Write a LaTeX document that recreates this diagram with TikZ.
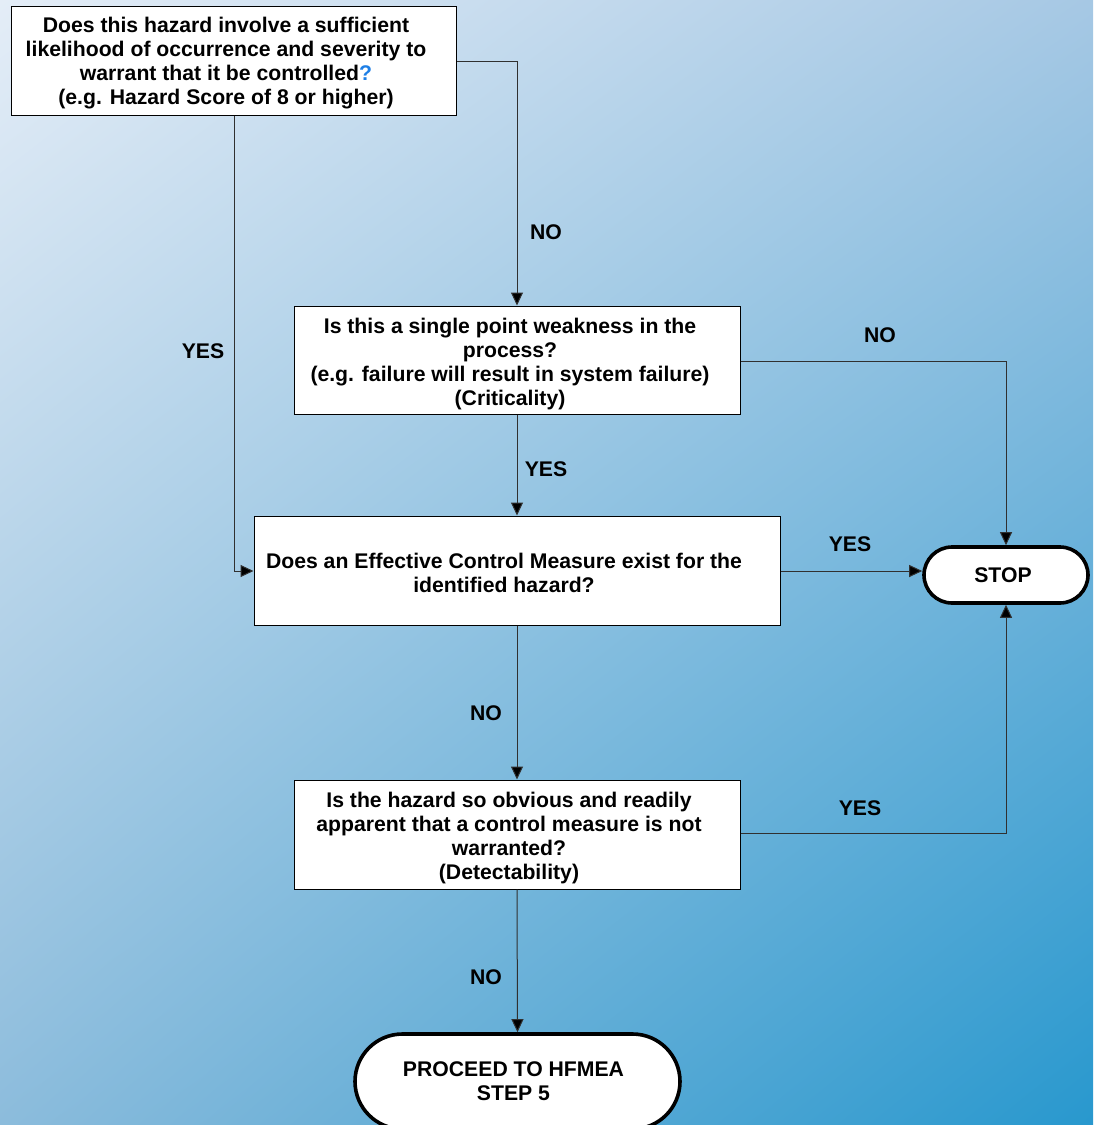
\documentclass[tikz,border=0pt]{standalone}
\usepackage{fontspec}
\setmainfont{Liberation Sans}
\usetikzlibrary{arrows.meta,shapes.misc,shadings}
\definecolor{bgTL}{HTML}{E4EDF7}
\definecolor{bgTR}{HTML}{A6C8E4}
\definecolor{bgBL}{HTML}{8CBCDC}
\definecolor{bgBR}{HTML}{2898CE}
\definecolor{qmark}{HTML}{1E7FE6}
\definecolor{wire}{HTML}{303030}
\begin{document}
\begin{tikzpicture}[x=1pt,y=-1pt,
  txt/.style={font=\fontsize{21.2}{24}\selectfont\bfseries, align=center, inner sep=0pt},
  box/.style={draw=black, fill=white, line width=1pt, inner sep=0pt},
  term/.style={rounded rectangle, draw=black, fill=white, line width=3.6pt, inner sep=0pt},
  flow/.style={draw=wire, line width=1pt, -{Triangle[length=13pt,width=12pt,fill=black]}}]
  \useasboundingbox (0,0) rectangle (1093,1125);
  \clip (0,0) rectangle (1093,1125);
  % background
  \shade[upper left=bgTL, upper right=bgTR, lower left=bgBL, lower right=bgBR]
    (0,0) rectangle (1093,1125);

  % decision boxes
  \node[box, minimum width=445pt, minimum height=109pt] (q1) at (233.5,60.5) {};
  \node[box, minimum width=446pt, minimum height=108pt] (q2) at (517,360) {};
  \node[box, minimum width=526pt, minimum height=109pt] (q3) at (517,570.5) {};
  \node[box, minimum width=446pt, minimum height=109pt] (q4) at (517,834.5) {};

  % terminals
  \node[term, minimum width=164pt, minimum height=56pt] (stop) at (1006,575) {};
  \node[term, minimum width=325pt, minimum height=95pt] (go) at (517.5,1081.5) {};

  % box texts
  \node[txt] (q1t) at ([shift={(-7.5,3)}]q1.center)
    {Does this hazard involve a sufficient\\likelihood of occurrence and severity to\\warrant that it be controlled\textcolor{qmark}{?}\\(e.g. Hazard Score of 8 or higher)};
  \node[txt] (q2t) at ([shift={(-7,4)}]q2.center)
    {Is this a single point weakness in the\\process?\\(e.g. failure will result in system failure)\\(Criticality)};
  \node[txt] (q3t) at ([shift={(-13,2)}]q3.center)
    {Does an Effective Control Measure exist for the\\identified hazard?};
  \node[txt] (q4t) at ([shift={(-8,4)}]q4.center)
    {Is the hazard so obvious and readily\\apparent that a control measure is not\\warranted?\\(Detectability)};
  \node[txt] (stopt) at ([shift={(-3,0)}]stop.center) {STOP};
  \node[txt] (got) at ([shift={(-4,0)}]go.center) {PROCEED TO HFMEA\\STEP 5};

  % connectors
  \coordinate (c1) at (517,61);
  \draw[flow] (q1.east |- c1) -- (c1) -- (q2.north);
  \draw[flow] (q1.south -| 234,0) -- (234,571) -- (q3.west |- 0,571);
  \draw[flow] (q2.south) -- (q3.north);
  \draw[flow] (q2.east |- 0,361) -- (1006,361) -- (stop.north);
  \draw[flow] (q3.east |- 0,571) -- (stop.west |- 0,571);
  \draw[flow] (q3.south) -- (q4.north);
  \draw[flow] (q4.east |- 0,833) -- (1006,833) -- (stop.south);
  \draw[flow] (q4.south) -- (go.north);

  % branch labels
  \node[txt] (l1) at (546,232) {NO};
  \node[txt] (l2) at (203,351) {YES};
  \node[txt] (l3) at (880,335) {NO};
  \node[txt] (l4) at (546,469) {YES};
  \node[txt] (l5) at (850,544) {YES};
  \node[txt] (l6) at (486,713) {NO};
  \node[txt] (l7) at (860,808) {YES};
  \node[txt] (l8) at (486,977) {NO};
\end{tikzpicture}
\end{document}
